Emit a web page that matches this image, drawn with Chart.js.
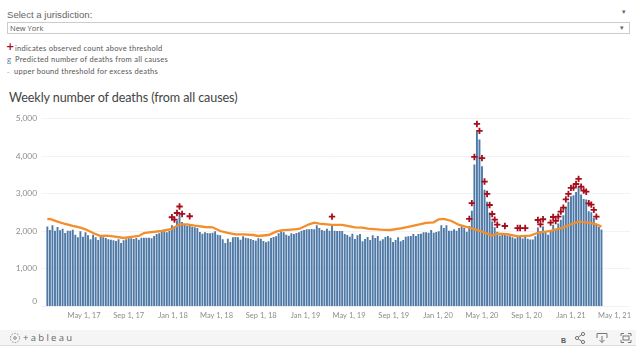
<!DOCTYPE html>
<html>
<head>
<meta charset="utf-8">
<script src="https://cdn.jsdelivr.net/npm/chart.js@4"></script>
<style>
html,body{margin:0;padding:0;background:#fff;width:640px;height:359px;overflow:hidden}
div,span,svg{position:absolute}
.txt{white-space:nowrap;color:#555}
.lg{font:7.5px Lato,sans-serif;letter-spacing:.27px;color:#555;white-space:nowrap}
canvas{position:absolute;left:0;top:108px}
</style>
</head>
<body>
<div class="txt" style="left:7px;top:9px;font:9.6px 'Liberation Sans',sans-serif;color:#666">Select a jurisdiction:</div>
<div class="txt" style="left:622px;top:8px;font:7px 'DejaVu Sans',sans-serif;color:#666">▾</div>
<div style="left:7px;top:22px;width:621px;height:10px;border:1px solid #ccc"></div>
<div class="txt" style="left:10px;top:23px;font:7.5px 'Open Sans',sans-serif;color:#555;line-height:10px">New York</div>
<div class="txt" style="left:620px;top:24px;font:7px 'DejaVu Sans',sans-serif;color:#666">▾</div>

<div style="left:6px;top:41px;font:bold 10px 'DejaVu Sans',sans-serif;color:#a50f1c">+</div>
<div class="lg" style="left:15px;top:44px">indicates observed count above threshold</div>
<div style="left:7px;top:54px;font:7.5px 'Open Sans',sans-serif;color:#4e79a7">g</div>
<div class="lg" style="left:15px;top:55px">Predicted number of deaths from all causes</div>
<div style="left:7px;top:65px;font:8px 'Open Sans',sans-serif;color:#f28e2b">-</div>
<div class="lg" style="left:14px;top:67px">upper bound threshold for excess deaths</div>

<div class="txt" style="left:9px;top:90px;font:12.6px Lato,sans-serif;letter-spacing:-.1px;color:#444">Weekly number of deaths (from all causes)</div>

<canvas id="chartWeekly" width="640" height="222"></canvas>

<div style="left:0;top:330px;width:636px;height:15px;background:#f5f5f5;border-bottom:1px solid #ddd"></div>
<svg style="left:9px;top:332px" width="12" height="12" viewBox="0 0 12 12" fill="none" stroke="#888" stroke-width="1"><circle cx="6" cy="6" r="1.3"/><circle cx="6" cy="6" r="4.6" stroke-dasharray="1.5 1.4"/></svg>
<div class="txt" style="left:23px;top:331px;font:9.5px 'Open Sans',sans-serif;letter-spacing:2.3px;color:#666">+ableau</div>
<div class="txt" style="left:561px;top:337px;font:bold 7px 'Liberation Sans',sans-serif;color:#555">B</div>
<svg style="left:574px;top:331px" width="62" height="14" viewBox="0 0 62 14" fill="none" stroke="#777" stroke-width="1">
<circle cx="3" cy="7" r="1.6"/><circle cx="9" cy="3" r="1.6"/><circle cx="9" cy="11" r="1.6"/><path d="M4.4 6 7.6 3.9M4.4 8 7.6 10.1"/>
<path d="M23 7V2.5H33V7M28 5V11.5M25.5 9 28 11.5 30.5 9"/>
<path d="M47 5V2.5H50M54 2.5H57V5M57 9V11.5H54M50 11.5H47V9"/><rect x="49" y="5" width="6" height="4"/>
</svg>

<script>
// weekly observed counts, New York
const observed=[
2115,2025,2150,2007,2105,2016,2060,1945,2007,2007,
2034,1900,1830,1990,1848,1963,1883,1776,1900,1830,
1760,1856,1830,1812,1776,1767,1750,1732,1776,1678,
1750,1776,1803,1803,1785,1812,1767,1820,1820,1820,
1820,1803,1865,1919,1937,1990,1990,1963,2007,2150,
2115,2270,2450,2240,2168,2141,2185,2114,2097,2079,
1972,1928,1963,1945,1936,1954,1990,1900,1883,1776,
1678,1794,1705,1830,1839,1830,1767,1856,1821,1803,
1785,1759,1741,1803,1794,1732,1696,1723,1812,1839,
1856,1936,1990,1963,1900,1874,1936,1919,1945,1963,
2007,2025,2043,2043,2052,2043,2150,2079,2025,2007,
2061,2007,2168,2007,1999,1999,1999,1919,1892,1848,
1928,1785,1883,1919,1723,1785,1839,1759,1883,1812,
1865,1741,1776,1839,1865,1821,1705,1759,1830,1723,
1759,1848,1856,1865,1919,1865,1919,1928,1963,1963,
1954,2025,1954,1972,1990,2150,2079,2150,2007,2007,
2043,2007,2079,2125,2085,1980,2130,2540,3770,4655,
4435,3725,3100,2780,2490,2250,2095,1975,1880,1890,
1920,1880,1860,1830,1800,1860,1860,1800,1860,1790,
1770,1770,1860,2090,2000,2115,1965,1900,2015,2165,
2060,2195,2300,2415,2645,2780,2925,2950,3040,3180,
2970,2850,2835,2525,2495,2345,2170,2105,2035]

// upper bound line, week number + value
const thresholdWeek=[0,1,4,7,10,13,15,18,21,23,26,30,33,36,38,40,45,49,52,55,58,62,65,68,71,74,77,81,83,87,90,92,96,99,103,105,107,112,116,121,124,126,131,135,139,142,146,149,152,154,156,159,162,167,171,175,177,181,185,190,193,198,203,206,209,213,216,218]
const thresholdValue=[2320,2330,2257,2194,2141,2096,2052,1954,1874,1883,1865,1821,1848,1874,1954,1972,2007,2061,2185,2185,2150,2114,2105,2007,1954,1918,1918,1900,1874,1900,1990,2025,2043,2061,2185,2230,2203,2168,2168,2105,2097,2070,2043,2034,2079,2114,2176,2221,2239,2319,2328,2274,2168,2079,1990,1884,1937,1920,1866,1884,1960,2008,2097,2186,2257,2230,2186,2124]

// red crosses
const crossWeek=[49,50,51,52,53,56,112,166,167,168,169,170,171,172,173,174,175,176,177,180,185,186,188,193,194,195,198,199,200,201,202,203,204,205,206,207,208,209,210,211,212,213,214,215,216]
const crossValue=[2373,2310,2487,2660,2461,2400,2390,2330,2750,3980,4860,4675,3950,3325,2995,2700,2460,2310,2175,2140,2085,2085,2085,2300,2185,2320,2230,2380,2275,2390,2525,2630,2850,2995,3155,3165,3260,3395,3190,3085,3055,2745,2710,2570,2390]

const tickDates=['2017-05-01','2017-09-01','2018-01-01','2018-05-01','2018-09-01','2019-01-01','2019-05-01','2019-09-01','2020-01-01','2020-05-01','2020-09-01','2021-01-01','2021-05-01']
const tickLabels=['May 1, 17','Sep 1, 17','Jan 1, 18','May 1, 18','Sep 1, 18','Jan 1, 19','May 1, 19','Sep 1, 19','Jan 1, 20','May 1, 20','Sep 1, 20','Jan 1, 21','May 1, 21']
const yTicks=[0,1000,2000,3000,4000,5000]

const DAY=86400000
const dayNo=s=>Date.parse(s)/DAY
const firstWeek=dayNo('2017-01-20')
const weekX=i=>firstWeek+7*i
const tickX=tickDates.map(dayNo)

// shift the zero label up like tableau does
const zeroLabelPlugin={
  id:'zeroLabel',
  beforeDraw(c){
    c.scales.y.getLabelItems().forEach(it=>{
      if(it.label==='0'&&!it.moved){it.options.translation[1]-=5;it.moved=true}
    })
  }
}

new Chart(document.getElementById('chartWeekly'),{
  type:'bar',
  plugins:[zeroLabelPlugin],
  data:{
    datasets:[
      {type:'line',data:crossWeek.map((w,i)=>({x:weekX(w),y:crossValue[i]})),showLine:false,pointStyle:'cross',pointRadius:3.2,pointBorderWidth:1.8,borderColor:'#a50f1c',backgroundColor:'#a50f1c',order:1},
      {type:'line',data:thresholdWeek.map((w,i)=>({x:weekX(w),y:thresholdValue[i]})),borderColor:'#f28e2b',borderWidth:2.3,pointRadius:0,tension:0,order:2},
      {type:'bar',data:observed.map((v,i)=>({x:weekX(i),y:v})),backgroundColor:'#4e79a7',barThickness:1.25,order:3}
    ]
  },
  options:{
    responsive:false,
    animation:false,
    layout:{padding:{top:10.7,right:10,left:0,bottom:0}},
    plugins:{legend:{display:false},tooltip:{enabled:false},title:{display:false}},
    scales:{
      x:{
        type:'linear',
        min:dayNo('2018-01-01')-363.5,
        max:dayNo('2018-01-01')+1258.6,
        offset:false,
        grid:{display:false,drawTicks:false,tickLength:0},
        border:{display:false},
        afterBuildTicks:s=>{s.ticks=tickX.map(v=>({value:v}))},
        afterFit:s=>{s.height=23.7},
        ticks:{
          autoSkip:false,maxRotation:0,padding:5,color:'#8c8c8c',font:{family:'Lato',size:7.5},
          callback:v=>tickLabels[tickX.indexOf(v)]
        }
      },
      y:{
        min:0,max:5000,
        grid:{color:'#f3f3f3',drawTicks:false},
        border:{display:false},
        afterBuildTicks:s=>{s.ticks=yTicks.map(v=>({value:v}))},
        afterFit:s=>{s.width=41},
        ticks:{padding:4,color:'#8c8c8c',font:{family:'Lato',size:8.4},callback:v=>v.toLocaleString('en-US')}
      }
    }
  }
})
</script>
</body>
</html>
